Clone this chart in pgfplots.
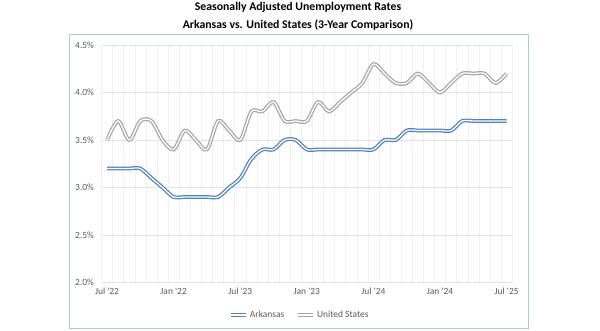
\documentclass[border=0pt]{standalone}
\usepackage{fontspec}
\setmainfont{Carlito}
\usepackage{pgfplots}
\pgfplotsset{compat=1.18}
\definecolor{ark}{HTML}{4F81BD}
\definecolor{usg}{HTML}{A6A6A6}
\definecolor{framec}{HTML}{B4C7DC}
\definecolor{lbl}{HTML}{595959}

\pgfplotstableread{
i ark us
0 3.2 3.5
1 3.2 3.7
2 3.2 3.5
3 3.2 3.7
4 3.1 3.7
5 3.0 3.5
6 2.9 3.4
7 2.9 3.6
8 2.9 3.5
9 2.9 3.4
10 2.9 3.7
11 3.0 3.6
12 3.1 3.5
13 3.3 3.8
14 3.4 3.8
15 3.4 3.9
16 3.5 3.7
17 3.5 3.7
18 3.4 3.7
19 3.4 3.9
20 3.4 3.8
21 3.4 3.9
22 3.4 4.0
23 3.4 4.1
24 3.4 4.3
25 3.5 4.2
26 3.5 4.1
27 3.6 4.1
28 3.6 4.2
29 3.6 4.1
30 3.6 4.0
31 3.6 4.1
32 3.7 4.2
33 3.7 4.2
34 3.7 4.2
35 3.7 4.1
36 3.7 4.2
}\datatable

\begin{document}
\begin{tikzpicture}[x=1bp,y=1bp]
\path[use as bounding box] (0,0) rectangle (600,330);
\draw[framec, line width=0.8bp] (69,2) rectangle (528,296);
\node[font=\bfseries\fontsize{11.8}{14}\selectfont, text=black] at (298,323) {Seasonally Adjusted Unemployment Rates};
\node[font=\bfseries\fontsize{11.8}{14}\selectfont, text=black] at (298,305) {Arkansas vs. United States (3-Year Comparison)};
\begin{axis}[
  at={(101.5bp,47.5bp)}, anchor=south west,
  scale only axis, width=410.7bp, height=237.5bp,
  xmin=-0.5, xmax=36.5, ymin=2.0, ymax=4.5,
  xtick={0,6,12,18,24,30,36},
  xticklabels={Jul \textquotesingle22, Jan \textquotesingle22, Jul \textquotesingle23, Jan \textquotesingle23, Jul \textquotesingle24, Jan \textquotesingle24, Jul \textquotesingle25},
  minor xtick={-0.5,0.5,...,36.5},
  ytick={2.0,2.5,3.0,3.5,4.0,4.5},
  yticklabels={2.0\%,2.5\%,3.0\%,3.5\%,4.0\%,4.5\%},
  ymajorgrids, xminorgrids, xmajorgrids=false,
  major grid style={draw=black!11, line width=0.6bp},
  minor grid style={draw=black!6, line width=0.6bp},
  axis line style={draw=none},
  major tick length=0pt, minor tick length=0pt,
  tick style={draw=none},
  tick label style={font=\fontsize{9.5}{11}\selectfont, text=lbl},
  /pgf/number format/assume math mode=true,
  yticklabel style={xshift=-4bp},
  xticklabel style={yshift=-2bp},
  legend style={at={(0.483,-0.137)}, anchor=center, legend columns=2, draw=none, fill=none,
    font=\fontsize{9.5}{11}\selectfont, text=lbl,
    /tikz/every even column/.append style={column sep=10bp}},
  legend image code/.code={\draw[#1] (0bp,0bp) -- (15bp,0bp);},
]
\addplot[color=ark, line width=1.25bp, double=white, double distance=1.3bp, smooth, no markers] table[x=i, y=ark] {\datatable};
\addlegendentry{Arkansas}
\addplot[color=usg, line width=1.25bp, double=white, double distance=1.3bp, smooth, no markers] table[x=i, y=us] {\datatable};
\addlegendentry{United States}
\end{axis}
\end{tikzpicture}
\end{document}
